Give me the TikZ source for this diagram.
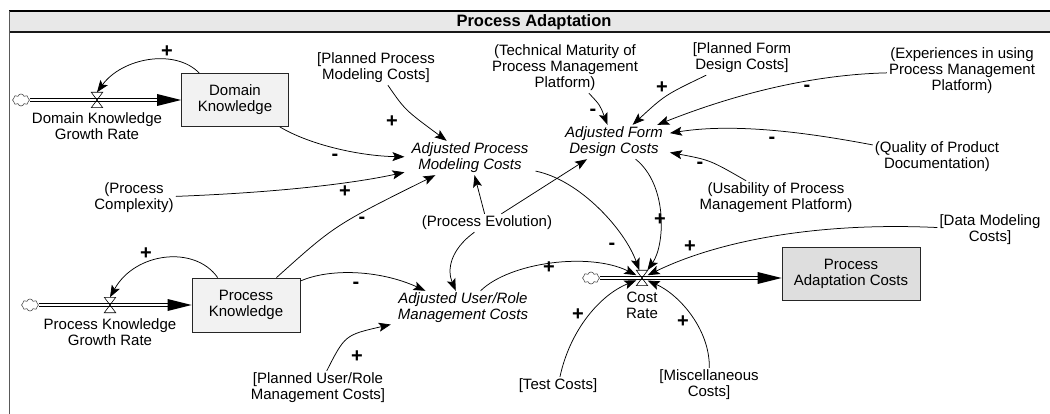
\documentclass[tikz,border=0pt]{standalone}
\usepackage{fontspec}
\setmainfont{Liberation Sans}
\usetikzlibrary{arrows.meta,shapes.symbols,calc}

\begin{document}
\begin{tikzpicture}[x=1pt,y=-1pt,
  every node/.style={font=\fontsize{15}{16}\selectfont, align=center},
  var/.style={inner sep=2pt},
  aux/.style={inner xsep=7pt, inner ysep=2pt, font=\fontsize{15}{16}\selectfont\itshape},
  stock/.style={draw=black!85, line width=0.8pt, minimum width=107pt, minimum height=53pt, inner sep=0pt},
  link/.style={line width=0.75pt, -{Stealth[length=12pt,width=9pt,inset=2.5pt]}},
  sgn/.style={font=\fontsize{20}{20}\selectfont\bfseries, inner sep=0pt},
  pipe/.style={double=white, double distance=2.4pt, line width=0.8pt, draw=black},
  valvenode/.style={minimum width=11pt, minimum height=15pt, inner sep=0pt},
  valveshape/.style={draw=black, line width=0.6pt},
  cloudnode/.style={cloud, cloud puffs=8, aspect=1.4, draw=black!70, line width=0.6pt, minimum width=17pt, minimum height=12pt, inner sep=0pt}
]
\useasboundingbox (0,0) rectangle (1050,414);

% header
\fill[gray!18] (9,12) rectangle (1050,32);
\draw[line width=2pt] (9,11) -- (1050,11);
\draw[line width=1.5pt, black!90] (9,32) -- (1050,32);
\draw[line width=1pt, black!65] (9,11) -- (9,414);
\node[font=\fontsize{16.5}{17}\selectfont\bfseries] (title) at (534,22) {Process Adaptation};

% stocks
\node[stock, fill=gray!10] (dk) at (235,100) {Domain\\Knowledge};
\node[stock, fill=gray!10, minimum width=108pt, minimum height=54pt] (pk) at (246,305) {Process\\Knowledge};
\node[stock, fill=gray!26, minimum width=138pt] (pac) at (851,274) {Process\\Adaptation Costs};

% flows
\node[cloudnode] (dkcloud) at (21,100) {};
\node[valvenode] (dkvalve) at (97,100) {};
\node[var] (dkrate) at (97,126) {Domain Knowledge\\Growth Rate};
\node[cloudnode] (pkcloud) at (30,305) {};
\node[valvenode] (pkvalve) at (110,305) {};
\node[var] (pkrate) at (110,332) {Process Knowledge\\Growth Rate};
\node[cloudnode] (crcloud) at (591,278) {};
\node[valvenode] (crvalve) at (642,278) {};
\node[var] (crrate) at (642,305) {Cost\\Rate};

\draw[pipe] (dkcloud.east) -- ($(dkcloud -| dk.west)+(-22,0)$);
\fill (dkcloud -| dk.west) -- ++(-24,-6) -- ++(0,12) -- cycle;
\draw[pipe] (pkcloud.east) -- ($(pkcloud -| pk.west)+(-22,0)$);
\fill (pkcloud -| pk.west) -- ++(-24,-6) -- ++(0,12) -- cycle;
\draw[pipe] (crcloud.east) -- ($(crcloud -| pac.west)+(-22,0)$);
\fill (crcloud -| pac.west) -- ++(-24,-6) -- ++(0,12) -- cycle;

\foreach \v in {dkvalve,pkvalve,crvalve}{
  \draw[valveshape] (\v.north west) -- (\v.north east) -- (\v.south west) -- (\v.south east) -- cycle;
}

% variables
\node[var] (ppmc) at (376,68) {[Planned Process\\Modeling Costs]};
\node[aux] (apmc) at (470,158) {Adjusted Process\\Modeling Costs};
\node[aux] (afdc) at (614,142) {Adjusted Form\\Design Costs};
\node[aux] (aurmc) at (463,308) {Adjusted User/Role\\Management Costs};
\node[var] (pe) at (487,223) {(Process Evolution)};
\node[var] (pc) at (134,198) {(Process\\Complexity)};
\node[var] (tm) at (565,68) {(Technical Maturity of\\Process Management\\Platform)};
\node[var] (pfdc) at (742,58) {[Planned Form\\Design Costs]};
\node[var] (exp) at (962,71) {(Experiences in using\\Process Management\\Platform)};
\node[var] (qpd) at (937,157) {(Quality of Product\\Documentation)};
\node[var] (upm) at (776,198) {(Usability of Process\\Management Platform)};
\node[var] (dmc) at (990,230) {[Data Modeling\\Costs]};
\node[var] (tc) at (558,386) {[Test Costs]};
\node[var] (mc) at (709,385) {[Miscellaneous\\Costs]};
\node[var] (purmc) at (318,388) {[Planned User/Role\\Management Costs]};

% connectors
\draw[link] (dk.143) .. controls (175,48) and (122,58) .. (dkvalve.north);
\draw[link] (pk.136) .. controls (195,245) and (135,252) .. (pkvalve.north);
\draw[link] (ppmc) .. controls (405,110) .. (apmc);
\draw[link] (dk) .. controls (310,145) and (360,156) .. (apmc);
\draw[link] (pc) .. controls (290,192) and (360,182) .. (apmc);
\draw[link] (pk) .. controls (335,225) .. (apmc);
\draw[link] (pe) -- (apmc);
\draw[link] (pe) -- (afdc);
\draw[link] (pe) .. controls (450,250) and (447,270) .. (aurmc);
\draw[link] (pk) .. controls (330,268) and (380,270) .. (aurmc);
\draw[link] (purmc) .. controls (345,335) .. (aurmc);
\draw[link] (aurmc) .. controls (510,262) and (590,252) .. (crvalve);
\draw[link] (apmc) .. controls (580,180) and (625,230) .. (crvalve);
\draw[link] (afdc) .. controls (668,185) and (665,245) .. (crvalve);
\draw[link] (dmc) .. controls (820,222) and (720,240) .. (crvalve);
\draw[link] (tc) .. controls (570,330) and (600,295) .. (crvalve);
\draw[link] (mc) .. controls (710,330) and (680,295) .. (crvalve);
\draw[link] (pfdc) .. controls (665,95) .. (afdc);
\draw[link] (tm) .. controls (600,105) .. (afdc);
\draw[link] (exp) .. controls (800,75) and (720,100) .. (afdc);
\draw[link] (qpd) .. controls (820,135) and (740,122) .. (afdc);
\draw[link] (upm) .. controls (710,160) .. (afdc);

% polarity signs
\node[sgn] (s1) at (167,52) {+};
\node[sgn] (s2) at (146,254) {+};
\node[sgn] (s3) at (392,122) {+};
\node[sgn] (s4) at (335,157) {-};
\node[sgn] (s5) at (345,192) {+};
\node[sgn] (s6) at (362,220) {-};
\node[sgn] (s7) at (356,285) {-};
\node[sgn] (s8) at (357,357) {+};
\node[sgn] (s9) at (549,268) {+};
\node[sgn] (s10) at (612,246) {-};
\node[sgn] (s11) at (660,220) {+};
\node[sgn] (s12) at (690,247) {+};
\node[sgn] (s13) at (578,315) {+};
\node[sgn] (s14) at (683,322) {+};
\node[sgn] (s15) at (662,88) {+};
\node[sgn] (s16) at (593,112) {-};
\node[sgn] (s17) at (807,88) {-};
\node[sgn] (s18) at (772,140) {-};
\node[sgn] (s19) at (700,165) {-};
\end{tikzpicture}
\end{document}
